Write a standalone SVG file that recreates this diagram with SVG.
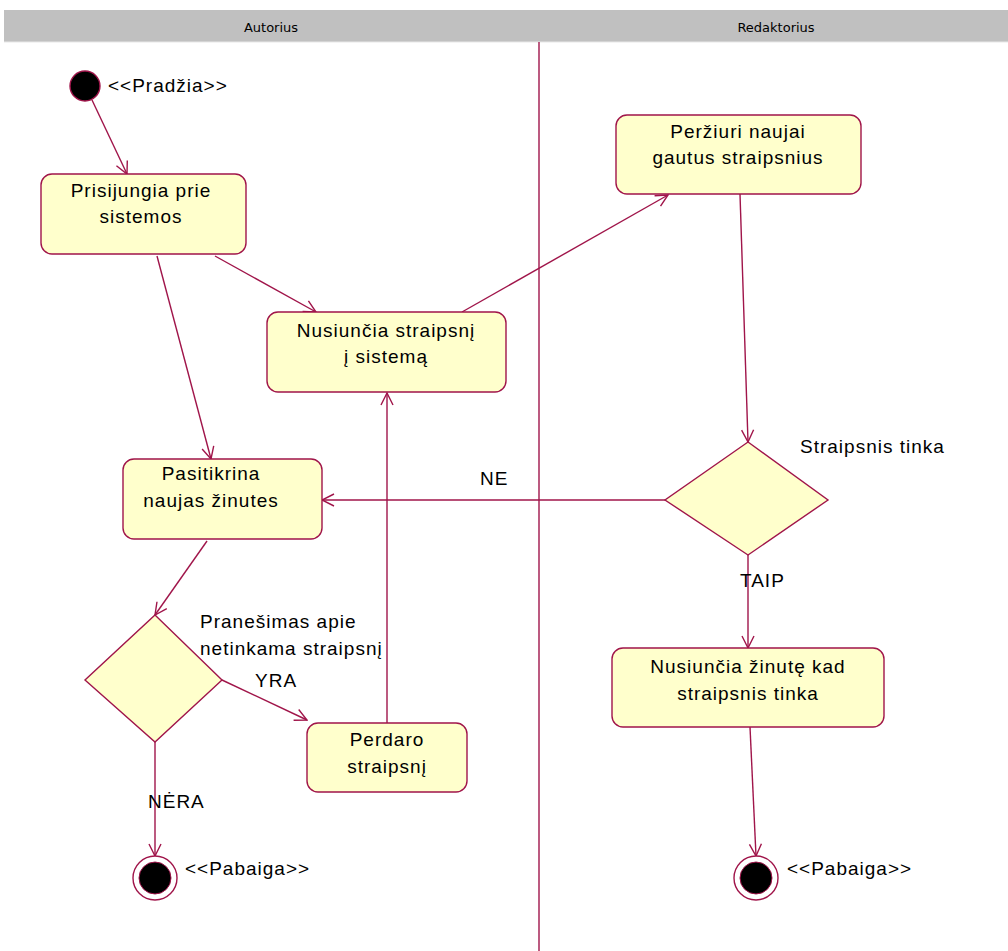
<svg xmlns="http://www.w3.org/2000/svg" width="1008" height="951" viewBox="0 0 1008 951">
  <style>
    .lane { fill: #c0c0c0; }
    .lanetxt { font-family: "DejaVu Sans", "Liberation Sans", sans-serif; font-size: 13px; fill: #000; text-anchor: middle; }
    .act { fill: #ffffcc; stroke: #a0154a; stroke-width: 1.4; }
    .txt { font-family: "Liberation Sans", Arial, sans-serif; font-size: 19px; letter-spacing: 1px; fill: #000; }
    .c { text-anchor: middle; }
    .edge { fill: none; stroke: #a0154a; stroke-width: 1.4; marker-end: url(#arr); }
    .line { stroke: #a0154a; stroke-width: 1.4; }
  </style>
  <defs>
    <marker id="arr" viewBox="0 0 14 14" refX="13" refY="7" markerWidth="14" markerHeight="14" markerUnits="userSpaceOnUse" orient="auto">
      <path d="M1,1 L13,7 L1,13" fill="none" stroke="#a0154a" stroke-width="1.4"/>
    </marker>
  </defs>
  <rect width="1008" height="951" fill="#ffffff"/>

  <!-- swimlanes -->
  <g id="lanes">
    <rect class="lane" x="4" y="10" width="1004" height="32"/>
    <line x1="4" y1="42" x2="1008" y2="42" stroke="#e8e8e8" stroke-width="1"/>
    <text class="lanetxt" x="271" y="32">Autorius</text>
    <text class="lanetxt" x="776" y="32">Redaktorius</text>
    <line class="line" x1="539" y1="42" x2="539" y2="951"/>
  </g>

  <!-- connectors -->
  <g id="connectors">
    <path class="edge" d="M92,100 L127,174"/>
    <path class="edge" d="M215,256 L316,312"/>
    <path class="edge" d="M157,256 L211,459"/>
    <path class="edge" d="M462,312 L668,195"/>
    <path class="edge" d="M740,194 L748,442"/>
    <path class="edge" d="M665,500 L322,500"/>
    <path class="edge" d="M748,555 L748,648"/>
    <path class="edge" d="M750,727 L756,856"/>
    <path class="edge" d="M207,541 L155,615"/>
    <path class="edge" d="M222,680 L307,720"/>
    <path class="edge" d="M155,742 L155,856"/>
    <path class="edge" d="M387,723 L387,393"/>
  </g>

  <!-- edge labels -->
  <g id="labels">
    <text class="txt" x="480" y="485">NE</text>
    <text class="txt" x="800" y="453">Straipsnis tinka</text>
    <text class="txt" x="740" y="587">TAIP</text>
    <text class="txt" x="200" y="628">Pranešimas apie</text>
    <text class="txt" x="200" y="655">netinkama straipsnį</text>
    <text class="txt" x="255" y="687">YRA</text>
    <text class="txt" x="148" y="808">NĖRA</text>
  </g>

  <g id="start">
    <circle cx="85" cy="86" r="15" fill="#000" stroke="#a0154a" stroke-width="1.4"/>
    <text class="txt" x="108" y="92">&lt;&lt;Pradžia&gt;&gt;</text>
  </g>

  <g id="prisijungia">
    <rect class="act" x="41" y="174" width="205" height="80" rx="11"/>
    <text class="txt c" x="141" y="197">Prisijungia prie</text>
    <text class="txt c" x="141" y="223">sistemos</text>
  </g>

  <g id="nusiuncia">
    <rect class="act" x="267" y="312" width="239" height="80" rx="11"/>
    <text class="txt c" x="386" y="337">Nusiunčia straipsnį</text>
    <text class="txt c" x="386" y="363">į sistemą</text>
  </g>

  <g id="perziuri">
    <rect class="act" x="616" y="115" width="245" height="79" rx="11"/>
    <text class="txt c" x="738" y="138">Peržiuri naujai</text>
    <text class="txt c" x="738" y="164">gautus straipsnius</text>
  </g>

  <g id="pasitikrina">
    <rect class="act" x="123" y="459" width="199" height="80" rx="11"/>
    <text class="txt c" x="211" y="480">Pasitikrina</text>
    <text class="txt c" x="211" y="507">naujas žinutes</text>
  </g>

  <g id="sprendimas1">
    <polygon class="act" points="155,615 222,680 155,742 85,680"/>
  </g>

  <g id="perdaro">
    <rect class="act" x="307" y="723" width="160" height="69" rx="11"/>
    <text class="txt c" x="387" y="746">Perdaro</text>
    <text class="txt c" x="387" y="773">straipsnį</text>
  </g>

  <g id="sprendimas2">
    <polygon class="act" points="748,442 828,500 748,555 665,500"/>
  </g>

  <g id="zinute">
    <rect class="act" x="612" y="648" width="272" height="79" rx="11"/>
    <text class="txt c" x="748" y="673">Nusiunčia žinutę kad</text>
    <text class="txt c" x="748" y="700">straipsnis tinka</text>
  </g>

  <g id="pabaiga1">
    <circle cx="155" cy="878" r="22" fill="#fff" stroke="#a0154a" stroke-width="1.4"/>
    <circle cx="155" cy="878" r="16" fill="#000" stroke="#a0154a" stroke-width="1"/>
    <text class="txt" x="185" y="875">&lt;&lt;Pabaiga&gt;&gt;</text>
  </g>

  <g id="pabaiga2">
    <circle cx="756" cy="878" r="22" fill="#fff" stroke="#a0154a" stroke-width="1.4"/>
    <circle cx="756" cy="878" r="16" fill="#000" stroke="#a0154a" stroke-width="1"/>
    <text class="txt" x="787" y="875">&lt;&lt;Pabaiga&gt;&gt;</text>
  </g>
</svg>
